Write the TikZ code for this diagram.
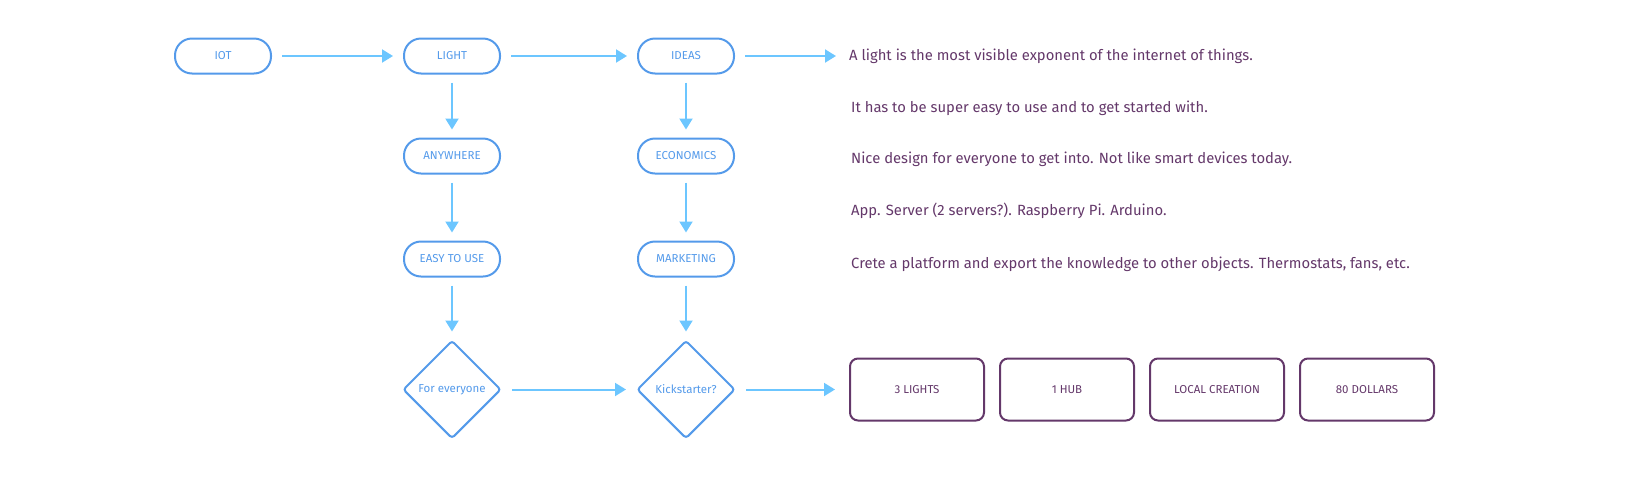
\documentclass[tikz,border=0pt]{standalone}
\usepackage{fontspec}
\setmainfont{Fira Sans}
\usetikzlibrary{arrows.meta,positioning,shapes.geometric}

\definecolor{pillblue}{RGB}{84,154,234}
\definecolor{flowblue}{RGB}{108,198,255}
\definecolor{plum}{RGB}{100,56,106}

\begin{document}
\begin{tikzpicture}[
  x=1pt, y=-1pt,
  pill/.style={draw=pillblue, line width=2pt, rounded corners=17pt, minimum width=96pt, minimum height=35pt, inner sep=2pt, text=pillblue, font=\fontsize{11.5}{13}\selectfont},
  decision/.style={diamond, draw=pillblue, line width=2pt, rounded corners=3pt, minimum width=98pt, minimum height=98pt, inner sep=0pt, text=pillblue, font=\fontsize{11.5}{13}\selectfont},
  note/.style={anchor=west, inner sep=0pt, text=plum, font=\fontsize{14.8}{16}\selectfont},
  item/.style={draw=plum, line width=2pt, rounded corners=8pt, minimum width=134pt, minimum height=62pt, text=plum, font=\fontsize{11.5}{13}\selectfont},
  flow/.style={draw=flowblue, line width=2pt, -{Triangle[length=11pt, width=13pt]}, shorten <=10pt, shorten >=10pt}
]
  \useasboundingbox (0,0) rectangle (1642,483);

  % Nodes
  \node[pill] (iot) at (223,56) {IOT};
  \node[pill, right=131pt of iot] (light) {LIGHT};
  \node[pill, right=136pt of light] (ideas) {IDEAS};
  \node[pill, below=63pt of light] (anywhere) {ANYWHERE};
  \node[pill, below=66pt of anywhere] (easy) {EASY TO USE};
  \node[decision, below=62pt of easy] (everyone) {For everyone};
  \node[pill, below=63pt of ideas] (economics) {ECONOMICS};
  \node[pill, below=66pt of economics] (marketing) {MARKETING};
  \node[decision, below=62pt of marketing] (kick) {Kickstarter?};

  % Notes
  \node[note] (n1) at (849,56) {A light is the most visible exponent of the internet of things.};
  \node[note] (n2) at (851,108) {It has to be super easy to use and to get started with.};
  \node[note] (n3) at (851,159) {Nice design for everyone to get into. Not like smart devices today.};
  \node[note] (n4) at (851,211) {App. Server (2 servers?). Raspberry Pi. Arduino.};
  \node[note] (n5) at (851,264) {Crete a platform and export the knowledge to other objects. Thermostats, fans, etc.};

  % Items
  \node[item, right=113pt of kick] (lights) {3 LIGHTS};
  \node[item, right=14pt of lights] (hub) {1 HUB};
  \node[item, right=14pt of hub] (local) {LOCAL CREATION};
  \node[item, right=14pt of local] (dollars) {80 DOLLARS};

  % Flows
  \draw[flow] (iot) -- (light);
  \draw[flow] (light) -- (ideas);
  \draw[flow, shorten >=13pt] (ideas) -- (n1);
  \draw[flow, shorten <=8pt, shorten >=8pt] (light) -- (anywhere);
  \draw[flow, shorten <=8pt, shorten >=8pt] (anywhere) -- (easy);
  \draw[flow, shorten <=8pt, shorten >=8pt] (easy) -- (everyone);
  \draw[flow, shorten <=8pt, shorten >=8pt] (ideas) -- (economics);
  \draw[flow, shorten <=8pt, shorten >=8pt] (economics) -- (marketing);
  \draw[flow, shorten <=8pt, shorten >=8pt] (marketing) -- (kick);
  \draw[flow] (everyone) -- (kick);
  \draw[flow, shorten >=14pt] (kick) -- (lights);
\end{tikzpicture}
\end{document}
